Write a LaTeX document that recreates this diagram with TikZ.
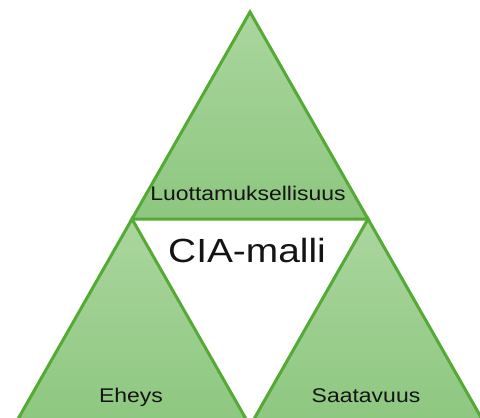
\documentclass[tikz,border=0pt]{standalone}
\usepackage{fontspec}
\setmainfont[FakeStretch=1.16]{Liberation Sans}
\definecolor{edgegreen}{RGB}{84,170,52}
\definecolor{filltop}{RGB}{170,214,158}
\definecolor{fillbot}{RGB}{141,199,127}
\definecolor{txt}{RGB}{20,20,20}
\tikzset{
  tri/.style={draw=edgegreen, line width=3pt, top color=filltop, bottom color=fillbot},
  lbl/.style={anchor=base, text=txt, inner sep=0pt, font=\fontsize{19.8}{22}\selectfont},
  title/.style={anchor=base, text=txt, inner sep=0pt, font=\fontsize{33.5}{38}\selectfont}
}
\begin{document}
\begin{tikzpicture}[x=1pt,y=-1pt]
  \useasboundingbox (0,0) rectangle (480,418);
  \clip (0,0) rectangle (480,418);
  \fill[white] (0,0) rectangle (480,418);
  \coordinate (apex) at (250,12);
  \coordinate (jl) at (132,219);
  \coordinate (jr) at (368,219);
  \coordinate (bm) at (250,426);
  \coordinate (bl) at (14,426);
  \coordinate (br) at (486,426);
  \path[tri] (apex) -- (jl) -- (jr) -- cycle;
  \path[tri] (jl) -- (bl) -- (bm) -- cycle;
  \path[tri] (jr) -- (bm) -- (br) -- cycle;
  \node[lbl] (conf) at (248,200) {Luottamuksellisuus};
  \node[title] (cia) at (247,262) {CIA-malli};
  \node[lbl] (integ) at (131,402) {Eheys};
  \node[lbl] (avail) at (366,402) {Saatavuus};
\end{tikzpicture}
\end{document}
